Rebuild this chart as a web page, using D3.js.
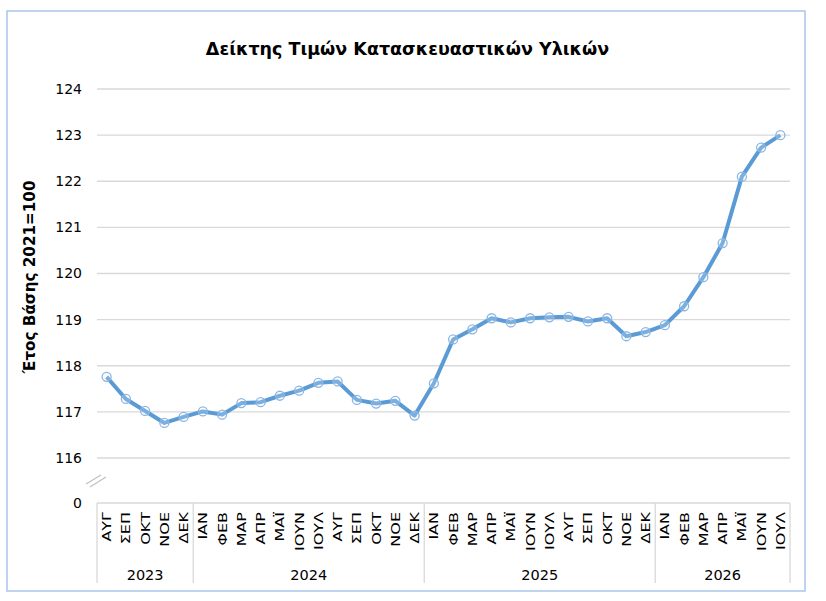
<!DOCTYPE html>
<html><head><meta charset="utf-8">
<script src="https://cdn.jsdelivr.net/npm/d3@7"></script>
<style>html,body{margin:0;padding:0;background:#fff;}svg{display:block;}</style>
</head><body>
<script>
const months = ["ΑΥΓ","ΣΕΠ","ΟΚΤ","ΝΟΕ","ΔΕΚ",
  "ΙΑΝ","ΦΕΒ","ΜΑΡ","ΑΠΡ","ΜΑΪ","ΙΟΥΝ","ΙΟΥΛ","ΑΥΓ","ΣΕΠ","ΟΚΤ","ΝΟΕ","ΔΕΚ",
  "ΙΑΝ","ΦΕΒ","ΜΑΡ","ΑΠΡ","ΜΑΪ","ΙΟΥΝ","ΙΟΥΛ","ΑΥΓ","ΣΕΠ","ΟΚΤ","ΝΟΕ","ΔΕΚ",
  "ΙΑΝ","ΦΕΒ","ΜΑΡ","ΑΠΡ","ΜΑΪ","ΙΟΥΝ","ΙΟΥΛ"];
const years = ["2023","2024","2025","2026"];
const monthsPerYear = [5,12,12,7];
const values = [117.76,117.28,117.02,116.76,116.89,
  117.01,116.94,117.19,117.21,117.35,117.46,117.63,117.66,117.26,117.18,117.24,116.92,
  117.62,118.57,118.79,119.03,118.94,119.03,119.05,119.06,118.96,119.03,118.64,118.73,
  118.88,119.29,119.92,120.66,122.10,122.73,123.00];
const yTicks = [116,117,118,119,120,121,122,123,124];
const breakLabel = "0";
const title = "Δείκτης Τιμών Κατασκευαστικών Υλικών";
const yTitle = "Έτος Βάσης 2021=100";

const W = 826, H = 601;
const L = 97, R = 790, axisY = 503;
const font = "'DejaVu Sans', Verdana, sans-serif";

const svg = d3.select("body").append("svg").attr("width", W).attr("height", H);
svg.append("rect").attr("x",7).attr("y",11).attr("width",798).attr("height",580)
  .attr("fill","#fff").attr("stroke","#a9c5eb").attr("stroke-width",1.5);

svg.append("text").attr("x",407.5).attr("y",55).attr("text-anchor","middle")
  .attr("font-family",font).attr("font-weight","bold").attr("font-size",17.5)
  .attr("fill","#000").text(title);

const x = d3.scaleBand().domain(d3.range(values.length)).range([L,R]).padding(0);
const y = d3.scaleLinear().domain([116,124]).range([458,89]);

// gridlines
svg.append("g").selectAll("line").data(yTicks).join("line")
  .attr("x1",L).attr("x2",R).attr("y1",d=>y(d)).attr("y2",d=>y(d))
  .attr("stroke","#d9d9d9").attr("stroke-width",1.3);

// y labels
svg.append("g").selectAll("text").data(yTicks).join("text")
  .attr("x",82).attr("y",d=>y(d)).attr("dy","0.35em").attr("text-anchor","end")
  .attr("font-family",font).attr("font-size",14).attr("fill","#000").text(d=>d);
svg.append("text").attr("x",82).attr("y",axisY).attr("dy","0.35em").attr("text-anchor","end")
  .attr("font-family",font).attr("font-size",14).attr("fill","#000").text(breakLabel);

// break marks
svg.append("g").selectAll("line").data([0,1]).join("line")
  .attr("x1",d=>86+d*4).attr("y1",d=>484+d*3).attr("x2",d=>101+d*5).attr("y2",d=>475+d*2)
  .attr("stroke","#c0c0c0").attr("stroke-width",1.2);

// axis line
svg.append("line").attr("x1",L).attr("x2",R).attr("y1",axisY).attr("y2",axisY)
  .attr("stroke","#d9d9d9").attr("stroke-width",1.3);

// group separators
const bounds = [0];
monthsPerYear.forEach(n => bounds.push(bounds[bounds.length-1]+n));
svg.append("g").selectAll("line").data(bounds).join("line")
  .attr("x1",d=> d<values.length ? x(d) : R).attr("x2",d=> d<values.length ? x(d) : R)
  .attr("y1",axisY).attr("y2",583).attr("stroke","#d9d9d9").attr("stroke-width",1.3);

// month labels
svg.append("g").selectAll("text").data(months).join("text")
  .attr("transform",(d,i)=>`translate(${x(i)+x.bandwidth()/2},512) rotate(-90) scale(1.28,1)`)
  .attr("dy","0.36em").attr("text-anchor","end")
  .attr("font-family",font).attr("font-size",12.5).attr("fill","#000").text(d=>d);

// year labels
svg.append("g").selectAll("text").data(years).join("text")
  .attr("x",(d,i)=> (x(bounds[i]) + (bounds[i+1]<values.length ? x(bounds[i+1]) : R))/2)
  .attr("y",580).attr("text-anchor","middle")
  .attr("font-family",font).attr("font-size",14.5).attr("fill","#000").text(d=>d);

// y title
svg.append("text").attr("transform","translate(30,277) rotate(-90)")
  .attr("dy","0.35em").attr("text-anchor","middle")
  .attr("font-family",font).attr("font-weight","bold").attr("font-size",15.2)
  .attr("fill","#000").text(yTitle);

// line
const line = d3.line().x((d,i)=>x(i)+x.bandwidth()/2).y(d=>y(d));
svg.append("path").datum(values).attr("d",line).attr("fill","none")
  .attr("stroke","#5b9bd5").attr("stroke-width",4).attr("stroke-linejoin","round");

svg.append("g").selectAll("circle").data(values).join("circle")
  .attr("cx",(d,i)=>x(i)+x.bandwidth()/2).attr("cy",d=>y(d)).attr("r",4.5)
  .attr("fill","rgba(255,255,255,0.2)").attr("stroke","#8ab6e3").attr("stroke-width",1.3);
</script>
</body></html>
